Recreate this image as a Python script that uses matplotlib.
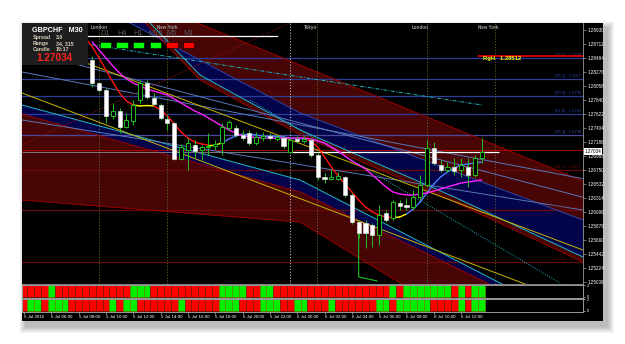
import matplotlib
matplotlib.use("Agg")
import matplotlib.pyplot as plt
from matplotlib.patches import Rectangle
import matplotlib.transforms as mtrans
import numpy as np

plt.rcParams['font.family'] = ['Liberation Sans', 'DejaVu Sans']

# ---------------- data ----------------
symbol = "GBPCHF"
timeframe = "M30"
bid = 1.27034
rgh = 1.28512
info_lines = [("Spread", "3.0"), ("Range", "34, 315"), ("Candle", "19:17")]

price_ticks = [1.28930, 1.28712, 1.28494, 1.28276, 1.28058, 1.27840, 1.27622,
               1.27404, 1.27186, 1.26968, 1.26750, 1.26532, 1.26314, 1.26096,
               1.25878, 1.25660, 1.25442, 1.25224, 1.25006]

time_labels = ["5 Jul 2016", "5 Jul 06:00", "5 Jul 08:00", "5 Jul 10:00", "5 Jul 12:00",
               "5 Jul 14:00", "5 Jul 16:00", "5 Jul 18:00", "5 Jul 20:00", "5 Jul 22:00",
               "6 Jul 00:00", "6 Jul 02:00", "6 Jul 04:00", "6 Jul 06:00", "6 Jul 08:00",
               "6 Jul 10:00", "6 Jul 12:00"]
time_label_bars = [0, 4, 8, 12, 16, 20, 24, 28, 32, 36, 40, 44, 48, 52, 56, 60, 64]

candle_bars = list(range(10, 68))
opens = [1.28463, 1.28105, 1.27996, 1.27591, 1.27669, 1.27420, 1.27513, 1.27840, 1.28105, 1.27871,
         1.27762, 1.27544, 1.27482, 1.26922, 1.27062, 1.27139, 1.27062, 1.27108, 1.27124, 1.27171,
         1.27404, 1.27404, 1.27295, 1.27326, 1.27171, 1.27248, 1.27280, 1.27233, 1.27248, 1.27030,
         1.27233, 1.27202, 1.27217, 1.26984, 1.26642, 1.26611, 1.26611, 1.26642, 1.26361, 1.25940,
         1.25925, 1.25894, 1.25738, 1.26081, 1.26003, 1.26236, 1.26205, 1.26174, 1.26330, 1.26517,
         1.27093, 1.26828, 1.26750, 1.26797, 1.26750, 1.26797, 1.26673, 1.26937]
highs = [1.28525, 1.28120, 1.28027, 1.27793, 1.27715, 1.27638, 1.27840, 1.28151, 1.28151, 1.27949,
         1.27793, 1.27606, 1.27498, 1.27155, 1.27248, 1.27217, 1.27139, 1.27326, 1.27217, 1.27482,
         1.27529, 1.27451, 1.27373, 1.27373, 1.27342, 1.27342, 1.27326, 1.27295, 1.27280, 1.27248,
         1.27280, 1.27280, 1.27248, 1.27030, 1.26704, 1.26766, 1.26719, 1.26657, 1.26392, 1.25971,
         1.25971, 1.25925, 1.26205, 1.26127, 1.26283, 1.26283, 1.26314, 1.26439, 1.26673, 1.27217,
         1.27186, 1.26906, 1.26875, 1.26937, 1.26937, 1.26937, 1.26984, 1.27248]
lows = [1.28042, 1.27965, 1.27482, 1.27544, 1.27326, 1.27404, 1.27451, 1.27793, 1.27856, 1.27762,
        1.27529, 1.27373, 1.26906, 1.26906, 1.26750, 1.26937, 1.26906, 1.26984, 1.27062, 1.26984,
        1.27373, 1.27264, 1.27217, 1.27139, 1.27139, 1.27202, 1.27217, 1.27202, 1.27093, 1.27015,
        1.27171, 1.27171, 1.26953, 1.26595, 1.26548, 1.26595, 1.26595, 1.26330, 1.25909, 1.25691,
        1.25535, 1.25551, 1.25582, 1.25940, 1.25971, 1.26127, 1.26127, 1.26127, 1.26283, 1.26486,
        1.26828, 1.26719, 1.26719, 1.26673, 1.26642, 1.26486, 1.26642, 1.26859]
closes = [1.28105, 1.27996, 1.27591, 1.27669, 1.27420, 1.27529, 1.27762, 1.28105, 1.27887, 1.27778,
          1.27560, 1.27482, 1.26922, 1.27108, 1.27171, 1.27046, 1.27108, 1.27124, 1.27155, 1.27420,
          1.27498, 1.27295, 1.27248, 1.27171, 1.27264, 1.27280, 1.27248, 1.27264, 1.27124, 1.27217,
          1.27202, 1.27233, 1.26984, 1.26642, 1.26611, 1.26642, 1.26657, 1.26361, 1.25940, 1.25769,
          1.25769, 1.25738, 1.26049, 1.25971, 1.26252, 1.26190, 1.26174, 1.26330, 1.26517, 1.27093,
          1.26859, 1.26750, 1.26797, 1.26735, 1.26828, 1.26673, 1.26937, 1.27034]

fast_ma_bars = list(range(9, 68))
fast_ma = [1.28805, 1.28665, 1.28494, 1.28307, 1.28120, 1.27949, 1.27824, 1.27762, 1.27747, 1.27754,
           1.27747, 1.27684, 1.27591, 1.27467, 1.27342, 1.27248, 1.27186, 1.27155, 1.27139, 1.27139,
           1.27171, 1.27233, 1.27280, 1.27311, 1.27311, 1.27295, 1.27280, 1.27280, 1.27272, 1.27264,
           1.27248, 1.27248, 1.27233, 1.27202, 1.27108, 1.26953, 1.26797, 1.26657, 1.26532, 1.26408,
           1.26283, 1.26174, 1.26096, 1.26049, 1.26018, 1.26010, 1.26018, 1.26065, 1.26143, 1.26252,
           1.26392, 1.26532, 1.26642, 1.26719, 1.26782, 1.26828, 1.26844, 1.26859, 1.26875]
# state of each segment: d = falling, f = flat, u = rising
fast_ma_state = "dddddddfffddddddddffuuuuuuuuuuuudddddddddddddffuuuuuuuuuuuu"

slow_ma_bars = list(range(10, 68))
slow_ma = [1.28743, 1.28619, 1.28494, 1.28369, 1.28260, 1.28167, 1.28105, 1.28058, 1.28011, 1.27980,
           1.27949, 1.27918, 1.27856, 1.27793, 1.27731, 1.27669, 1.27622, 1.27560, 1.27498, 1.27435,
           1.27373, 1.27326, 1.27280, 1.27264, 1.27256, 1.27248, 1.27248, 1.27248, 1.27248, 1.27248,
           1.27248, 1.27248, 1.27233, 1.27202, 1.27171, 1.27108, 1.27046, 1.26968, 1.26891, 1.26828,
           1.26766, 1.26673, 1.26579, 1.26486, 1.26408, 1.26377, 1.26361, 1.26361, 1.26377, 1.26392,
           1.26423, 1.26455, 1.26486, 1.26517, 1.26548, 1.26564, 1.26579, 1.26595]

fib_names = ["[23.6] - 1.2848", "[38.2] - 1.2817", "[50.0] - 1.2790", "[61.8] - 1.2762",
             "[76.4] - 1.2730", "Daily LOW - [88.2] - 1.2675", "[100.0] - 1.2613", "[123.6] - 1.2532"]
fib_levels = [1.28500, 1.28167, 1.27902, 1.27622, 1.27295, 1.26750, 1.26127, 1.25317]
fib_colors = ["#2b3f9a", "#2b3f9a", "#2b3f9a", "#2b3f9a", "#4a4aa0", "#6a0a0a", "#6a0a0a", "#6a0a0a"]

# channel edges: (bar, price) anchor points
upper_red_top = [(24.3, 1.29086), (81.85, 1.26579)]
upper_navy_top = [(15.52, 1.29039), (25.77, 1.28463), (40.41, 1.27638), (62.37, 1.26750), (81.85, 1.25971)]
upper_navy_bot = [(18.45, 1.29039), (25.77, 1.28229), (40.41, 1.27373), (62.37, 1.26361), (81.85, 1.25395)]
upper_red_bot = [(18.45, 1.28961), (25.77, 1.28151), (40.41, 1.27295), (62.37, 1.26283), (81.85, 1.25317)]
lower_cyan = [(-0.29, 1.27762), (40.41, 1.26595), (69.69, 1.24991)]
lower_navy_bot = [(-0.29, 1.27622), (40.41, 1.26408), (67.79, 1.24991)]
lower_red_bot = [(-0.29, 1.26283), (40.41, 1.25940), (55.05, 1.24991)]

steel_lines = [[(-0.29, 1.28619), (81.85, 1.26326)],
               [(-0.29, 1.28276), (81.85, 1.26614)],
               [(-0.29, 1.27529), (81.85, 1.26127)]]
dashdot_cyan = [(-0.29, 1.28868), (67.06, 1.27762)]
dotted_cyan = [(33.09, 1.27840), (78.48, 1.24991)]
dotted_red = [(-0.29, 1.27139), (38.95, 1.29039)]
zigzag = [(49.0, 1.25925), (49.0, 1.25084), (51.7, 1.25022)]

ind1_colors = ("RRRR" + "G" + "RRRRRRRRRRR" + "GGG" + "RRRRRRRRRR" + "GGGG" + "RR" + "GG" +
               "RRRRRRRRRRRRRRRRR" + "G" + "R" + "GGGGGGG" + "R" + "G" + "R" + "GG")
ind2_colors = ("R" + "GG" + "R" + "GGG" + "RRRRRR" + "G" + "R" + "GG" + "RRRRRR" + "G" + "RRRRR" +
               "GGG" + "RRR" + "GGG" + "RR" + "GG" + "RRR" + "G" + "RRRRRR" + "GG" + "R" +
               "GGGGG" + "RRRR" + "G" + "R" + "GG")

session_names = ["London", "New York", "Tokyo", "London", "New York"]
session_bars = [11, 21, 42, 58, 68]
sep_bars = [11.0, 21.0, 39.0, 42.9, 59.0, 68.9]

tf_names = ["D1", "H4", "H1", "M15", "M5", "M1"]
tf_states = [1, 1, 1, 1, 0, 0]

# ---------------- figure ----------------
W, H = 625, 344
fig = plt.figure(figsize=(W / 100, H / 100), dpi=100)
fig.patch.set_facecolor("white")
bg = fig.add_axes([0, 0, 1, 1], zorder=-5)
bg.set_xlim(0, W)
bg.set_ylim(H, 0)
bg.axis("off")

for k in range(14, 0, -1):
    bg.add_patch(Rectangle((22 - k * 0.5 + 4, 23 - k * 0.5 + 5), 581 + k, 298 + k,
                           fc="black", ec="none", alpha=0.018))
bg.add_patch(Rectangle((22, 23), 581, 298, fc="black", ec="none"))

X0, X1 = 22, 583
bar_w = 6.83
xl = ((X0 - 24) / bar_w, (X1 - 24) / bar_w)

def fpos(x0, y0, x1, y1):
    return [x0 / W, 1 - y1 / H, (x1 - x0) / W, (y1 - y0) / H]

ax = fig.add_axes(fpos(X0, 23, X1, 284), zorder=1)
ax.set_facecolor("black")
ax.set_xlim(*xl)
ppx = 0.00015571
ax.set_ylim(1.293971 - 284 * ppx, 1.293971 - 23 * ppx)
for s in ax.spines.values():
    s.set_color("#9a9a9a")
    s.set_linewidth(0.6)
ax.spines["top"].set_visible(False)
ax.spines["left"].set_visible(False)
ax.set_xticks([])
ax.yaxis.tick_right()
ax.set_yticks(price_ticks)
ax.set_yticklabels([f"{v:.5f}" for v in price_ticks])
ax.tick_params(axis="y", colors="white", labelsize=3.3, length=2, width=0.5, pad=1.5)
ax.tick_params(axis="y", color="#9a9a9a")

# ---- channels ----
grid = np.linspace(xl[0] - 1, xl[1] + 1, 400)

def curve(pts):
    xs = [p[0] for p in pts]
    ys = [p[1] for p in pts]
    y = np.interp(grid, xs, ys)
    s0 = (ys[1] - ys[0]) / (xs[1] - xs[0])
    s1 = (ys[-1] - ys[-2]) / (xs[-1] - xs[-2])
    y = np.where(grid < xs[0], ys[0] + s0 * (grid - xs[0]), y)
    y = np.where(grid > xs[-1], ys[-1] + s1 * (grid - xs[-1]), y)
    return y

maroon = "#470505"
navy = "#04044a"
u_top, u_nt, u_nb, u_rb = (curve(upper_red_top), curve(upper_navy_top),
                            curve(upper_navy_bot), curve(upper_red_bot))
ax.fill_between(grid, u_nt, u_top, where=u_top > u_nt, interpolate=True,
                color=maroon, lw=0, zorder=0.4)
ax.fill_between(grid, u_nt, u_nb, color=navy, lw=0, zorder=0.45)
ax.fill_between(grid, u_nb, u_rb, color=maroon, lw=0, zorder=0.45)
ax.plot(grid, u_top, color="#a00000", lw=0.7, zorder=1.2)
ax.plot(grid, u_nt, color="#3050c0", lw=0.6, zorder=1.2)
ax.plot(grid, u_nb, color="#20b8d0", lw=0.7, zorder=1.2)
ax.plot(grid, u_rb, color="#a00000", lw=0.6, zorder=1.2)

l_c, l_nb, l_rb = curve(lower_cyan), curve(lower_navy_bot), curve(lower_red_bot)
ax.fill_between(grid, l_c, l_nb, color=navy, lw=0, zorder=0.45)
ax.fill_between(grid, l_nb, l_rb, color=maroon, lw=0, zorder=0.4)
ax.plot(grid, l_c, color="#20b8d0", lw=0.7, zorder=1.2)
ax.plot(grid, l_nb, color="#a00000", lw=0.7, zorder=1.2)
ax.plot(grid, l_rb, color="#a00000", lw=0.6, zorder=1.2)

for ln in steel_lines:
    ax.plot(grid, curve(ln), color="#5a78b8", lw=0.7, zorder=1.3)
ax.plot([p[0] for p in dashdot_cyan], [p[1] for p in dashdot_cyan], color="#20b0b8", lw=0.7,
        ls=(0, (4, 1.5, 1, 1.5)), zorder=1.3)
ax.plot([p[0] for p in dotted_cyan], [p[1] for p in dotted_cyan], color="#20b0c0", lw=0.7,
        ls=(0, (1, 1.5)), zorder=1.3)
ax.plot([p[0] for p in dotted_red], [p[1] for p in dotted_red], color="#a01010", lw=0.7,
        ls=(0, (1, 1.5)), zorder=1.3)
ax.plot([p[0] for p in zigzag], [p[1] for p in zigzag], color="#20c020", lw=0.8, zorder=5)

# fib / pivot horizontal lines
for lvl, nm, c in zip(fib_levels, fib_names, fib_colors):
    ax.axhline(lvl, color=c, lw=0.9, zorder=1)
    ax.text(xl[1] - 0.3, lvl + 0.00012, nm, color=c, fontsize=3.0, ha="right",
            va="bottom", zorder=2)
ax.axhline(1.27062, color="#c00000", lw=0.6, zorder=1)
ax.hlines(bid, 39, 69.5, color="white", lw=0.9, zorder=3)
ax.hlines(bid, xl[0], 39, color="#8a8a8a", lw=0.6, zorder=3)
ax.hlines(rgh + 0.00008, 66.5, xl[1], color="#d00000", lw=1.4, zorder=3)
ax.text(67.2, rgh - 0.00045, "RgH   1.28512", color="#ffff00", fontsize=4.2,
        fontweight="bold", zorder=6)

# yellow trend lines
ax.plot([xl[0], xl[1]], [1.28793, 1.25504], color="#c8b400", lw=0.7, zorder=2)
ax.plot([xl[0], xl[1]], [1.27949, 1.24632], color="#c8b400", lw=0.7, zorder=2)

# session separators
for b in sep_bars:
    c = "#cfcfcf" if b == 39.0 else "#6b6b30"
    ax.axvline(b, color=c, lw=0.6, ls=(0, (1.5, 2)), zorder=1)

# moving averages
state_col = {"d": "#ff1010", "f": "#ffff00", "u": "#4a7aff"}
for k in range(len(fast_ma) - 1):
    ax.plot(fast_ma_bars[k:k + 2], fast_ma[k:k + 2], color=state_col[fast_ma_state[k]],
            lw=1.0, zorder=5, solid_capstyle="round")
ax.plot(slow_ma_bars, slow_ma, color="#ff20ff", lw=1.0, zorder=5)

# candles
for b, o, h, l, c in zip(candle_bars, opens, highs, lows, closes):
    ax.vlines(b, l, h, color="#20c020", lw=0.7, zorder=6)
    lo, hi = min(o, c), max(o, c)
    if c >= o:
        ax.add_patch(Rectangle((b - 0.3, lo), 0.6, max(hi - lo, 0.00003), fc="black",
                               ec="#20c020", lw=0.7, zorder=7))
    else:
        ax.add_patch(Rectangle((b - 0.3, lo), 0.6, max(hi - lo, 0.00003), fc="white",
                               ec="#d8d8d8", lw=0.5, zorder=7))

tr = mtrans.blended_transform_factory(ax.transAxes, ax.transData)
ax.text(1.003, bid, f"{bid:.5f}", transform=tr, fontsize=3.3, color="black", va="center",
        ha="left", bbox=dict(fc="white", ec="none", pad=0.6), zorder=10, clip_on=False)

# indicator panels
def ind_panel(y0, y1, cols, last):
    a = fig.add_axes(fpos(X0, y0, X1, y1), zorder=1)
    a.set_facecolor("black")
    a.set_xlim(*xl)
    a.set_ylim(0, 2)
    for s in a.spines.values():
        s.set_color("#9a9a9a")
        s.set_linewidth(0.7)
    bars = list(range(len(cols)))
    a.bar(bars, [1.9] * len(bars), bottom=0.05, width=1.0,
          color=["#ff0000" if ch == "R" else "#00ee00" for ch in cols],
          edgecolor=["#7a1a00" if ch == "R" else "#6a8a00" for ch in cols], linewidth=0.5)
    a.yaxis.tick_right()
    a.set_yticks([0.15, 1.85])
    a.set_yticklabels(["0", "2"])
    a.tick_params(axis="y", colors="white", labelsize=3.0, length=1.5, width=0.4, pad=1.5)
    if last:
        a.set_xticks(time_label_bars)
        a.set_xticklabels(time_labels, ha="left")
        a.tick_params(axis="x", colors="white", labelsize=3.2, length=1.5, width=0.4, pad=1)
    else:
        a.set_xticks([])
    return a

ind_panel(284.5, 297.5, ind1_colors, False)
ind_panel(298.5, 311.5, ind2_colors, True)

# overlay layer (info box, timeframe strip)
ov = fig.add_axes([0, 0, 1, 1], zorder=5)
ov.set_xlim(0, W)
ov.set_ylim(H, 0)
ov.axis("off")
ov.patch.set_alpha(0)

ov.add_patch(Rectangle((22, 23), 66, 42, fc="#1e1e1e", ec="none", zorder=20))
ov.text(32, 30.5, f"{symbol}   {timeframe}", color="white", fontsize=5.2, fontweight="bold",
        va="center", zorder=21)
for k, (lab, val) in enumerate(info_lines):
    ov.text(33, 37.5 + k * 6, lab, color="#d8d0b8", fontsize=3.8, fontweight="bold",
            va="center", zorder=21)
    ov.text(56, 37.5 + k * 6, val, color="#d8d0b8", fontsize=3.8, fontweight="bold",
            va="center", zorder=21)
ov.text(36, 58, f"{bid:.5f}", color="#ff2020", fontsize=7.2, fontweight="bold", va="center",
        zorder=21)

ov.plot([88, 277], [36.2, 36.2], color="white", lw=0.9, zorder=20)
for k, (nm, st) in enumerate(zip(tf_names, tf_states)):
    ov.text(105 + k * 16.7, 33.5, nm, color="#5a5a5a", fontsize=5.2, ha="center",
            va="center", zorder=19)
    ov.add_patch(Rectangle((99.5 + k * 16.7, 41.5), 11.3, 6, fc="#00ff00" if st else "#ff0000",
                           ec="black", lw=0.4, zorder=21))

for nm, b in zip(session_names, session_bars):
    ax.text(b, 1.293971 - 27.5 * ppx, nm, color="#9a9a9a", fontsize=3.3, fontweight="bold",
            ha="center", va="center", zorder=8)

fig.savefig("out.png", dpi=100, facecolor=fig.get_facecolor())
